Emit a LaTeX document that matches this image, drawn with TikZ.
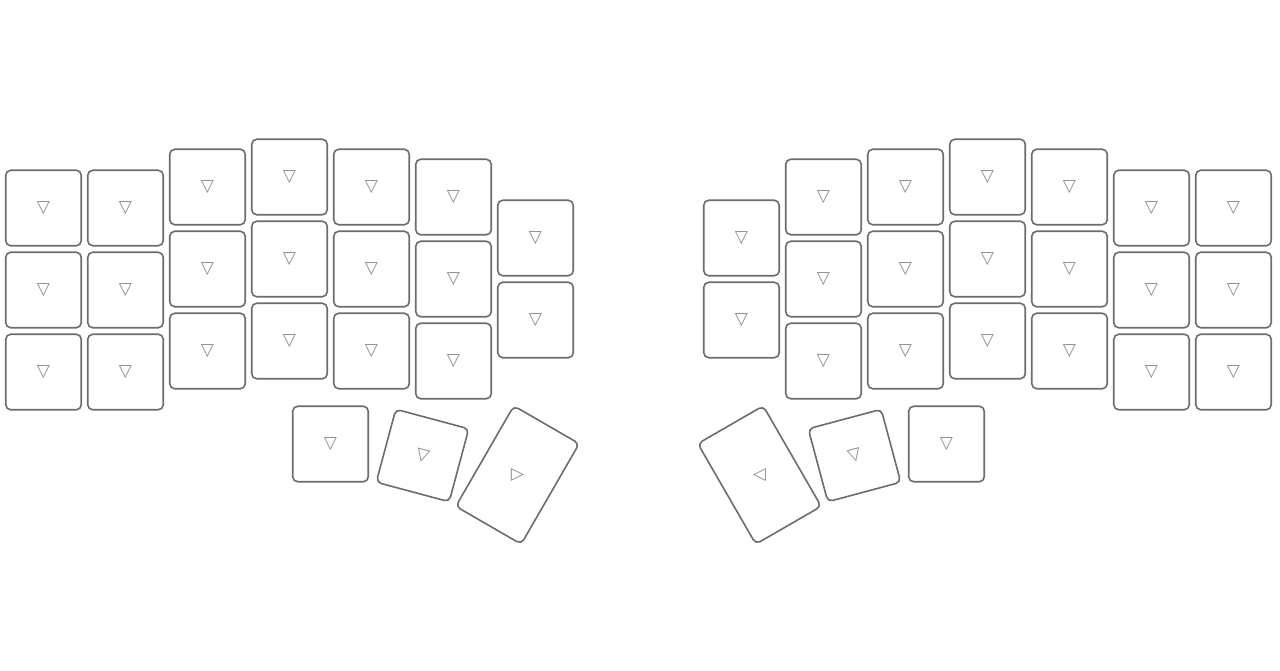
\documentclass[tikz,border=0pt]{standalone}
\usepackage{fontspec}
\newfontfamily\keyfont{DejaVu Sans}
\usepackage{tikz}
\definecolor{keyline}{HTML}{6C6C6C}
\definecolor{keytri}{HTML}{8A8A8A}
\tikzset{
  key/.style={rectangle,rounded corners=5pt,draw=keyline,line width=1.6pt,minimum width=75.5pt,minimum height=75.5pt,inner sep=0pt,text=keytri,font=\keyfont\fontsize{17}{17}\selectfont},
  tallkey/.style={key,minimum height=116pt},
  tri/.style={inner sep=0pt,text=keytri,font=\keyfont\fontsize{17}{17}\selectfont},
}

\begin{document}
\begin{tikzpicture}[x=1pt,y=-1pt]
   \useasboundingbox (0,0) rectangle (1280,670);
   % left half
   \node[key] (l00) at (43.5,208) {▽};
   \node[key] (l01) at (43.5,290) {▽};
   \node[key] (l02) at (43.5,372) {▽};
   \node[key] (l10) at (125.5,208) {▽};
   \node[key] (l11) at (125.5,290) {▽};
   \node[key] (l12) at (125.5,372) {▽};
   \node[key] (l20) at (207.5,187) {▽};
   \node[key] (l21) at (207.5,269) {▽};
   \node[key] (l22) at (207.5,351) {▽};
   \node[key] (l30) at (289.5,177) {▽};
   \node[key] (l31) at (289.5,259) {▽};
   \node[key] (l32) at (289.5,341) {▽};
   \node[key] (l40) at (371.5,187) {▽};
   \node[key] (l41) at (371.5,269) {▽};
   \node[key] (l42) at (371.5,351) {▽};
   \node[key] (l50) at (453.5,197) {▽};
   \node[key] (l51) at (453.5,279) {▽};
   \node[key] (l52) at (453.5,361) {▽};
   \node[key] (l60) at (535.5,238) {▽};
   \node[key] (l61) at (535.5,320) {▽};
   % left thumbs
   \node[key] (lt0) at (330.5,444) {▽};
   \node[key,rotate=-15] (lt1) at (422.5,455.5) {▽};
   \node[tallkey,rotate=-30] (lt2) at (517.5,475) {};
   \node[tri,rotate=90] (lt2t) at (lt2) {▽};
   % right half
   \node[key] (r00) at (1233.5,208) {▽};
   \node[key] (r01) at (1233.5,290) {▽};
   \node[key] (r02) at (1233.5,372) {▽};
   \node[key] (r10) at (1151.5,208) {▽};
   \node[key] (r11) at (1151.5,290) {▽};
   \node[key] (r12) at (1151.5,372) {▽};
   \node[key] (r20) at (1069.5,187) {▽};
   \node[key] (r21) at (1069.5,269) {▽};
   \node[key] (r22) at (1069.5,351) {▽};
   \node[key] (r30) at (987.5,177) {▽};
   \node[key] (r31) at (987.5,259) {▽};
   \node[key] (r32) at (987.5,341) {▽};
   \node[key] (r40) at (905.5,187) {▽};
   \node[key] (r41) at (905.5,269) {▽};
   \node[key] (r42) at (905.5,351) {▽};
   \node[key] (r50) at (823.5,197) {▽};
   \node[key] (r51) at (823.5,279) {▽};
   \node[key] (r52) at (823.5,361) {▽};
   \node[key] (r60) at (741.5,238) {▽};
   \node[key] (r61) at (741.5,320) {▽};
   % right thumbs
   \node[key] (rt0) at (946.5,444) {▽};
   \node[key,rotate=15] (rt1) at (854.5,455.5) {▽};
   \node[tallkey,rotate=30] (rt2) at (759.5,475) {};
   \node[tri,rotate=-90] (rt2t) at (rt2) {▽};
\end{tikzpicture}
\end{document}
